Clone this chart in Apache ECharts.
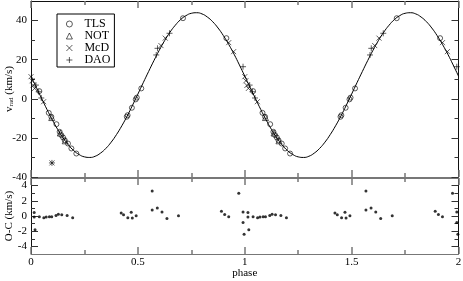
<!DOCTYPE html>
<html><head><meta charset="utf-8">
<script src="https://cdn.jsdelivr.net/npm/echarts@6/dist/echarts.min.js"></script>
<style>html,body{margin:0;padding:0;background:#fff}#c{width:463px;height:281px}</style>
</head><body><div id="c"></div>
<script>
// phase-folded data (phase in [0,1)); plotted at phase and phase+1
const curvePhase = [0,0.025,0.05,0.075,0.1,0.125,0.15,0.175,0.2,0.225,0.25,0.275,0.3,0.325,0.35,0.375,0.4,0.425,0.45,0.475,0.5,0.525,0.55,0.575,0.6,0.625,0.65,0.675,0.7,0.725,0.75,0.775,0.8,0.825,0.85,0.875,0.9,0.925,0.95,0.975,1.0];
const curveV = [11.6,5.8,0.1,-5.5,-10.8,-15.7,-20.0,-23.6,-26.5,-28.5,-29.7,-30.0,-29.4,-27.8,-25.4,-22.2,-18.3,-13.8,-8.8,-3.3,2.4,8.2,13.9,19.5,24.8,29.7,34.0,37.6,40.5,42.5,43.7,44.0,43.4,41.8,39.4,36.2,32.3,27.8,22.8,17.3,11.6];

const tlsPhase = [0.039,0.083,0.095,0.119,0.134,0.142,0.150,0.158,0.173,0.189,0.212,0.448,0.452,0.472,0.490,0.495,0.516,0.711,0.914];
const tlsV     = [3.9,-7.2,-9.2,-13.0,-16.9,-18.6,-19.8,-21.2,-22.9,-25.4,-28.0,-9.2,-8.4,-4.6,-0.3,0.6,5.3,41.2,31.0];
const notPhase = [0.097,0.137,0.160];
const notV     = [-9.6,-17.5,-21.5];
const mcdPhase = [0.000,0.005,0.010,0.017,0.059,0.608,0.628,0.925,0.948];
const mcdV     = [11.3,9.2,6.8,5.3,-1.5,27.2,31.0,28.7,24.1];
const daoPhase = [0.023,0.036,0.048,0.586,0.592,0.648,0.992];
const daoV     = [7.0,3.6,0.4,22.4,25.8,33.5,16.4];
// rejected point (shown once)
const outlierPhase = [0.098];
const outlierV = [-32.8];

const ocPhase = [0.891,0.906,0.925,0.972,0.992,0.992,0.997,0.015,0.015,0.019,0.039,0.060,0.071,0.086,0.097,0.117,0.128,0.144,0.169,0.195,0.422,0.433,0.453,0.469,0.474,0.492,0.567,0.567,0.591,0.613,0.636,0.690];
const ocV     = [0.63,0.2,-0.1,3.0,0.54,-0.87,-2.4,0.45,-0.14,-1.8,-0.1,-0.23,-0.14,-0.1,-0.1,0.07,0.24,0.15,0.07,-0.23,0.41,0.15,-0.23,0.5,-0.27,0.03,3.3,0.8,1.05,0.54,-0.32,0.03];

const vTicks = [-40,-20,0,20,40];
const vMinor = [-30,-10,10,30];
const ocTicks = [-4,-2,0,2,4];
const ocMinor = [-3,-1,1,3];

function fold(ph, v){ const out=[]; for(let k=0;k<2;k++){ ph.forEach((p,i)=>{ const q=p+k; if(q<=2) out.push([q, v[i]]); }); } return out; }
function curveData(){ const out=[]; for(let k=0;k<2;k++){ curvePhase.forEach((p,i)=>{ if(k===1 && i===0) return; out.push([p+k, curveV[i]]); }); } return out; }

const FF = 'Liberation Serif, Times New Roman, serif';
const chart = echarts.init(document.getElementById('c'), null, {renderer:'canvas'});

function xAx(grid, pos, showLabel, lineColor){
  return {
    type:'value', gridIndex:grid, position:pos, min:0, max:2, interval:0.5,
    axisLine:{show:true, onZero:false, lineStyle:{color:lineColor, width:1}},
    axisTick:{show:true, inside:true, length:7, lineStyle:{color:'#777', width:1.5}},
    minorTick:{show:true, splitNumber:2, length:4, lineStyle:{color:'#777', width:1.5}},
    splitLine:{show:false}, minorSplitLine:{show:false},
    axisLabel:{show:showLabel, color:'#000', fontFamily:FF, fontSize:11, margin:3},
    name: showLabel ? 'phase' : '', nameLocation:'middle', nameGap:14, nameMoveOverlap:false,
    nameTextStyle:{color:'#000', fontFamily:FF, fontSize:11}
  };
}
function yAx(grid, pos, mn, mx, iv, ticks, len, showLine, showLabel, name){
  return {
    type:'value', gridIndex:grid, position:pos, min:mn, max:mx, interval:iv,
    axisLine:{show:showLine, onZero:false, lineStyle:{color:'#111', width:1}},
    axisTick:{show:true, inside:true, length:len, customValues:ticks, lineStyle:{color:'#333', width:1}},
    splitLine:{show:false},
    axisLabel:{show:showLabel, customValues:ticks, color:'#000', fontFamily:FF, fontSize:11, margin:4},
    name: name||'', nameLocation:'middle', nameGap:16, nameRotate:90, nameMoveOverlap:false,
    nameTextStyle:{color:'#000', fontFamily:FF, fontSize:11,
      rich:{ v:{fontFamily:FF, fontSize:11, color:'#000'}, s:{fontFamily:FF, fontSize:7, color:'#000', padding:[5,0,0,0]} }}
  };
}

const symStyle = {color:'rgba(0,0,0,0)', borderColor:'#000', borderWidth:0.8};
const X_PATH = 'path://M0,0L10,10M10,0L0,10';
const P_PATH = 'path://M5,0L5,10M0,5L10,5';

chart.setOption({
  animation:false,
  backgroundColor:'#fff',
  textStyle:{fontFamily:FF},
  grid:[
    {left:31, right:4.5, top:1, height:176, outerBoundsMode:'none', containLabel:false},
    {left:31, right:4.5, top:178, height:76, outerBoundsMode:'none', containLabel:false}
  ],
  legend:{
    data:['TLS','NOT','McD','DAO'], orient:'vertical', left:57, top:14,
    borderColor:'#000', borderWidth:1, borderRadius:0, backgroundColor:'#fff',
    padding:[4,4,1,9], itemWidth:6, itemHeight:6, itemGap:0, selectedMode:false, symbolKeepAspect:true,
    itemStyle:{borderWidth:0.8},
    textStyle:{fontFamily:FF, fontSize:12, color:'#000', lineHeight:11.7, padding:[0,0,0,7]}
  },
  xAxis:[ xAx(0,'bottom',false,'#777'), xAx(0,'top',false,'#111'), xAx(1,'top',false,'#777'), xAx(1,'bottom',true,'#777') ],
  yAxis:[
    yAx(0,'left',-40,50,10,vTicks,7,true,true,'{v|v}{s|rad}{v| (km/s)}'),
    yAx(0,'left',-40,50,10,vMinor,4,false,false),
    yAx(0,'right',-40,50,10,vTicks,7,true,false),
    yAx(0,'right',-40,50,10,vMinor,4,false,false),
    yAx(1,'left',-5,5,1,ocTicks,7,true,true,'O-C (km/s)'),
    yAx(1,'left',-5,5,1,ocMinor,4,false,false),
    yAx(1,'right',-5,5,1,ocTicks,7,true,false),
    yAx(1,'right',-5,5,1,ocMinor,4,false,false)
  ],
  series:[
    {type:'line', name:'model', xAxisIndex:0, yAxisIndex:0, data:curveData(), smooth:true, showSymbol:false, symbol:'none',
     lineStyle:{color:'#000', width:1}, z:1, silent:true},
    {type:'scatter', name:'TLS', xAxisIndex:0, yAxisIndex:0, data:fold(tlsPhase,tlsV), symbol:'circle', symbolSize:5, itemStyle:symStyle, z:3},
    {type:'scatter', name:'NOT', xAxisIndex:0, yAxisIndex:0, data:fold(notPhase,notV), symbol:'triangle', symbolSize:6, itemStyle:symStyle, z:3},
    {type:'scatter', name:'McD', xAxisIndex:0, yAxisIndex:0, data:fold(mcdPhase,mcdV).concat(outlierPhase.map((p,i)=>[p,outlierV[i]])), symbol:X_PATH, symbolSize:5, itemStyle:symStyle, z:3},
    {type:'scatter', name:'DAO', xAxisIndex:0, yAxisIndex:0, data:fold(daoPhase,daoV).concat(outlierPhase.map((p,i)=>[p,outlierV[i]])), symbol:P_PATH, symbolSize:6, itemStyle:symStyle, z:3},
    {type:'scatter', name:'O-C', xAxisIndex:3, yAxisIndex:4, data:fold(ocPhase,ocV), symbol:'circle', symbolSize:3, itemStyle:{color:'#000'}, z:3}
  ]
});
</script></body></html>
